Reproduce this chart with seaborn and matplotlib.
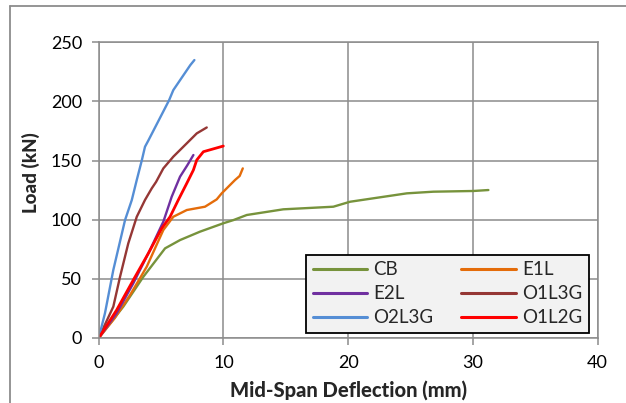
import matplotlib
matplotlib.use("Agg")
import matplotlib.pyplot as plt
import seaborn as sns
import pandas as pd
from matplotlib.lines import Line2D

# ---- data ----
series_names = ["CB", "E1L", "E2L", "O1L3G", "O2L3G", "O1L2G"]

cb_x = [0, 1.97, 3.58, 5.32, 6.52, 8.12, 9.99, 10.8, 11.87, 14.8, 18.81, 20.15, 24.7, 26.83, 30.04, 31.24]
cb_y = [0, 26.5, 51.8, 75.8, 82.8, 89.9, 97, 99.7, 104, 108.8, 111, 115.2, 122.3, 123.7, 124.3, 125.1]

e1l_x = [0, 1.3, 2.51, 3.85, 5.18, 5.98, 7.06, 8.52, 9.46, 9.86, 10.93, 11.3, 11.55]
e1l_y = [0, 17, 36.3, 60.3, 91.3, 102.5, 108.2, 111, 117.2, 122.3, 133.6, 137, 143.4]

e2l_x = [0, 1.44, 2.77, 4.11, 5.05, 5.18, 5.85, 6.52, 7.1, 7.59]
e2l_y = [0, 20.9, 46.2, 74.4, 95.5, 98.3, 119.4, 136.4, 146, 154.7]

o1l3g_x = [0, 1.17, 1.71, 2.37, 3.05, 3.71, 4.25, 4.6, 5.18, 5.98, 7.06, 7.86, 8.66]
o1l3g_y = [0, 26.5, 51.8, 80, 102.5, 116.7, 126.5, 132, 143.4, 153.3, 164.6, 173, 178]

o2l3g_x = [0, 0.5, 1.17, 2.11, 2.65, 3.05, 3.45, 3.71, 3.98, 5.64, 5.98, 7.34, 7.67]
o2l3g_y = [0, 20.9, 57.5, 99.7, 116.6, 133.6, 150, 161.7, 167, 201, 209.6, 230.7, 235]

o1l2g_x = [0, 1.44, 2.77, 3.98, 5.05, 5.72, 6.38, 7.06, 7.59, 7.86, 8.39, 9.99]
o1l2g_y = [0, 23.7, 49, 71.6, 92.7, 102.5, 116.7, 130.8, 142, 150.5, 157.5, 162.3]

x_ticks = [0, 10, 20, 30, 40]
y_ticks = [0, 50, 100, 150, 200, 250]

xs = [cb_x, e1l_x, e2l_x, o1l3g_x, o2l3g_x, o1l2g_x]
ys = [cb_y, e1l_y, e2l_y, o1l3g_y, o2l3g_y, o1l2g_y]
rows = []
for name, xx, yy in zip(series_names, xs, ys):
    for i, (a, b) in enumerate(zip(xx, yy)):
        rows.append({"series": name, "x": a, "y": b, "i": i})
df = pd.DataFrame(rows)

colors = {"CB": "#77933C", "E1L": "#E46C0A", "E2L": "#7030A0",
          "O1L3G": "#953735", "O2L3G": "#558ED5", "O1L2G": "#FF0000"}
widths = {"CB": 1.7, "E1L": 1.7, "E2L": 1.7, "O1L3G": 1.7, "O2L3G": 1.7, "O1L2G": 2.0}

sns.set_style("white")
plt.rcParams["font.family"] = ["Lato", "DejaVu Sans"]

fig = plt.figure(figsize=(6.26, 4.03), dpi=100)
ax = fig.add_axes([0.1577, 0.1613, 0.797, 0.7337])

for name in series_names:
    sub = df[df["series"] == name]
    sns.lineplot(data=sub, x="x", y="y", ax=ax, sort=False, estimator=None,
                 color=colors[name], linewidth=widths[name], legend=False)

ax.set_xlim(0, 40)
ax.set_ylim(0, 250)
ax.set_xticks(x_ticks)
ax.set_yticks(y_ticks)
ax.grid(True, color="#8C8C8C", linewidth=1.1)
ax.set_axisbelow(True)
for s in ax.spines.values():
    s.set_color("#8C8C8C")
    s.set_linewidth(1.1)
ax.tick_params(axis="both", which="major", length=5, width=1.1, color="#8C8C8C",
               labelsize=13, pad=7, labelcolor="#000000", direction="out")
ax.tick_params(bottom=True, left=True)
ax.set_xlabel("Mid-Span Deflection (mm)", fontsize=14.5, fontweight="black")
ax.set_ylabel("Load (kN)", fontsize=13.5, fontweight="black")
ax.xaxis.set_label_coords(0.5, -0.143)
ax.yaxis.set_label_coords(-0.117, 0.558)

order = ["CB", "E2L", "O2L3G", "E1L", "O1L3G", "O1L2G"]
handles = [Line2D([0], [0], color=colors[n], linewidth=2.2) for n in order]
leg = ax.legend(handles, order, ncol=2, loc="lower left",
                bbox_to_anchor=(0.4154, 0.0169, 0.5672, 0.2672), mode="expand",
                borderaxespad=0, fontsize=13.5, handlelength=2.9, handletextpad=0.35,
                labelspacing=0.38, frameon=True, fancybox=False, borderpad=0.35)
leg.get_frame().set_facecolor("#F2F2F2")
leg.get_frame().set_edgecolor("#000000")
leg.get_frame().set_linewidth(1.3)
leg.get_frame().set_alpha(1)

# outer chart border (top and left visible)
fig.add_artist(Line2D([10 / 626, 10 / 626], [0, 1 - 6 / 403], transform=fig.transFigure,
                      color="#8C8C8C", linewidth=1.3))
fig.add_artist(Line2D([10 / 626, 1], [1 - 6 / 403, 1 - 6 / 403], transform=fig.transFigure,
                      color="#8C8C8C", linewidth=1.3))

fig.savefig("out.png", dpi=100)
